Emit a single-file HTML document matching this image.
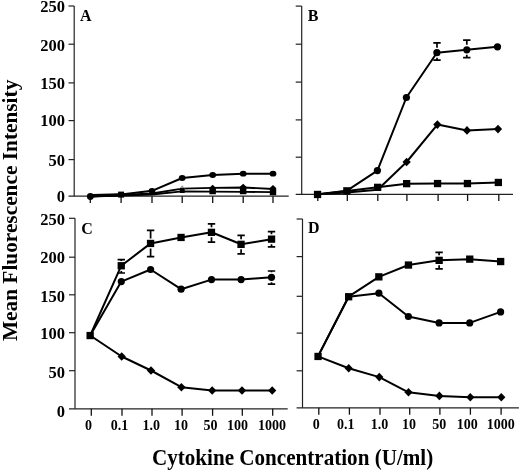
<!DOCTYPE html>
<html><head><meta charset="utf-8"><style>
html,body{margin:0;padding:0;background:#fff;width:520px;height:471px;overflow:hidden;}
svg{display:block;font-family:"Liberation Serif",serif;filter:blur(0.35px);}
</style></head><body>
<svg width="520" height="471" viewBox="0 0 520 471">
<path d="M74.2 6.0V196.2" stroke="#222" stroke-width="1.2" fill="none"/>
<path d="M68.5 6.0H74.2" stroke="#222" stroke-width="1.2" fill="none"/>
<path d="M68.5 44.2H74.2" stroke="#222" stroke-width="1.2" fill="none"/>
<path d="M68.5 82.9H74.2" stroke="#222" stroke-width="1.2" fill="none"/>
<path d="M68.5 120.6H74.2" stroke="#222" stroke-width="1.2" fill="none"/>
<path d="M68.5 159.6H74.2" stroke="#222" stroke-width="1.2" fill="none"/>
<path d="M68.5 196.2H288.7" stroke="#222" stroke-width="1.2" fill="none"/>
<path d="M90.3 196.2V203.0" stroke="#111" stroke-width="1.3"/>
<path d="M121.1 196.2V203.0" stroke="#111" stroke-width="1.3"/>
<path d="M152.0 196.2V203.0" stroke="#111" stroke-width="1.3"/>
<path d="M182.2 196.2V203.0" stroke="#111" stroke-width="1.3"/>
<path d="M212.7 196.2V203.0" stroke="#111" stroke-width="1.3"/>
<path d="M243.2 196.2V203.0" stroke="#111" stroke-width="1.3"/>
<path d="M273.0 196.2V203.0" stroke="#111" stroke-width="1.3"/>
<path d="M301.7 6.1V194.4" stroke="#222" stroke-width="1.2" fill="none"/>
<path d="M295.7 6.1H301.7" stroke="#222" stroke-width="1.2" fill="none"/>
<path d="M295.7 44.2H301.7" stroke="#222" stroke-width="1.2" fill="none"/>
<path d="M295.7 82.1H301.7" stroke="#222" stroke-width="1.2" fill="none"/>
<path d="M295.7 119.9H301.7" stroke="#222" stroke-width="1.2" fill="none"/>
<path d="M295.7 157.2H301.7" stroke="#222" stroke-width="1.2" fill="none"/>
<path d="M295.7 194.4H513.0" stroke="#222" stroke-width="1.2" fill="none"/>
<path d="M317.8 194.4V201.0" stroke="#111" stroke-width="1.3"/>
<path d="M347.3 194.4V201.0" stroke="#111" stroke-width="1.3"/>
<path d="M377.8 194.4V201.0" stroke="#111" stroke-width="1.3"/>
<path d="M406.9 194.4V201.0" stroke="#111" stroke-width="1.3"/>
<path d="M438.1 194.4V201.0" stroke="#111" stroke-width="1.3"/>
<path d="M467.6 194.4V201.0" stroke="#111" stroke-width="1.3"/>
<path d="M498.8 194.4V201.0" stroke="#111" stroke-width="1.3"/>
<path d="M75.0 218.3V408.8" stroke="#222" stroke-width="1.2" fill="none"/>
<path d="M69.0 218.3H75.0" stroke="#222" stroke-width="1.2" fill="none"/>
<path d="M69.0 257.2H75.0" stroke="#222" stroke-width="1.2" fill="none"/>
<path d="M69.0 294.8H75.0" stroke="#222" stroke-width="1.2" fill="none"/>
<path d="M69.0 332.7H75.0" stroke="#222" stroke-width="1.2" fill="none"/>
<path d="M69.0 370.7H75.0" stroke="#222" stroke-width="1.2" fill="none"/>
<path d="M69.0 408.8H287.7" stroke="#222" stroke-width="1.2" fill="none"/>
<path d="M91.3 408.8V415.8" stroke="#111" stroke-width="1.3"/>
<path d="M122.0 408.8V415.8" stroke="#111" stroke-width="1.3"/>
<path d="M152.0 408.8V415.8" stroke="#111" stroke-width="1.3"/>
<path d="M182.1 408.8V415.8" stroke="#111" stroke-width="1.3"/>
<path d="M212.6 408.8V415.8" stroke="#111" stroke-width="1.3"/>
<path d="M242.3 408.8V415.8" stroke="#111" stroke-width="1.3"/>
<path d="M272.7 408.8V415.8" stroke="#111" stroke-width="1.3"/>
<path d="M302.5 219.0V407.8" stroke="#222" stroke-width="1.2" fill="none"/>
<path d="M296.6 219.0H302.5" stroke="#222" stroke-width="1.2" fill="none"/>
<path d="M296.6 256.6H302.5" stroke="#222" stroke-width="1.2" fill="none"/>
<path d="M296.6 296.3H302.5" stroke="#222" stroke-width="1.2" fill="none"/>
<path d="M296.6 333.1H302.5" stroke="#222" stroke-width="1.2" fill="none"/>
<path d="M296.6 370.8H302.5" stroke="#222" stroke-width="1.2" fill="none"/>
<path d="M296.6 407.8H518.9" stroke="#222" stroke-width="1.2" fill="none"/>
<path d="M318.8 407.8V414.7" stroke="#111" stroke-width="1.3"/>
<path d="M349.4 407.8V414.7" stroke="#111" stroke-width="1.3"/>
<path d="M380.0 407.8V414.7" stroke="#111" stroke-width="1.3"/>
<path d="M409.7 407.8V414.7" stroke="#111" stroke-width="1.3"/>
<path d="M439.9 407.8V414.7" stroke="#111" stroke-width="1.3"/>
<path d="M470.4 407.8V414.7" stroke="#111" stroke-width="1.3"/>
<path d="M501.1 407.8V414.7" stroke="#111" stroke-width="1.3"/>
<polyline points="90.3,196.5 121.1,194.5 152.0,190.8 182.2,178.0 212.7,175.0 243.2,173.7 273.0,173.7" fill="none" stroke="#000" stroke-width="2.00" stroke-linejoin="round"/>
<polyline points="90.3,196.3 121.1,195.0 152.0,193.5 182.2,188.6 212.7,187.8 243.2,187.5 273.0,189.0" fill="none" stroke="#000" stroke-width="1.80" stroke-linejoin="round"/>
<polyline points="90.3,196.5 121.1,195.5 152.0,194.5 182.2,191.3 212.7,191.6 243.2,191.8 273.0,192.2" fill="none" stroke="#000" stroke-width="1.80" stroke-linejoin="round"/>
<path d="M92 195.6L120 194.8" stroke="#000" stroke-width="3.2"/>
<circle cx="90.3" cy="196.5" r="3.4" fill="#000"/>
<rect x="118.1" y="191.6" width="6.0" height="6.0" fill="#000"/>
<ellipse cx="152.0" cy="190.8" rx="3.4" ry="2.9"/>
<ellipse cx="182.2" cy="178.0" rx="3.4" ry="2.9"/>
<ellipse cx="212.7" cy="175.0" rx="3.4" ry="2.9"/>
<ellipse cx="243.2" cy="173.7" rx="3.4" ry="2.9"/>
<ellipse cx="273.0" cy="173.7" rx="3.4" ry="2.9"/>
<polygon points="182.2,185.3 185.5,189 178.9,189" fill="#999"/>
<rect x="179.7" y="188.0" width="5.0" height="5.0" fill="#000"/>
<polygon points="212.7,184.8 215.9,187.8 215.9,194.2 209.4,194.2 209.4,187.8" fill="#000"/>
<polygon points="243.2,183.8 246.4,186.8 246.4,194.2 239.9,194.2 239.9,186.8" fill="#000"/>
<polygon points="273.0,184.9 276.2,187.9 276.2,195.3 269.8,195.3 269.8,187.9" fill="#000"/>
<polyline points="317.8,194.3 347.0,190.7 377.4,170.6 406.4,97.5 436.9,52.7 466.8,49.8 497.5,46.8" fill="none" stroke="#000" stroke-width="2.00" stroke-linejoin="round"/>
<polyline points="317.8,194.3 347.0,192.5 377.6,189.8 406.6,162.0 437.4,124.6 467.0,130.4 498.0,129.1" fill="none" stroke="#000" stroke-width="2.00" stroke-linejoin="round"/>
<polyline points="317.5,194.5 346.9,190.9 377.6,187.3 406.6,183.7 437.5,183.6 467.4,183.6 498.3,182.4" fill="none" stroke="#000" stroke-width="2.00" stroke-linejoin="round"/>
<path d="M433.3 42.8H440.7M433.3 60.2H440.7M437.0 42.8V47.7M437.0 60.2V57.7" stroke="#000" stroke-width="1.7" fill="none"/>
<path d="M463.1 40.1H470.5M463.1 57.7H470.5M466.8 40.1V44.8M466.8 57.7V54.8" stroke="#000" stroke-width="1.7" fill="none"/>
<circle cx="377.4" cy="170.6" r="3.6" fill="#000"/>
<circle cx="406.4" cy="97.5" r="3.6" fill="#000"/>
<circle cx="436.9" cy="52.7" r="3.6" fill="#000"/>
<circle cx="466.8" cy="49.8" r="3.6" fill="#000"/>
<circle cx="497.5" cy="46.8" r="3.6" fill="#000"/>
<polygon points="406.6,157.7 410.8,162.0 406.6,166.3 402.5,162.0" fill="#000"/>
<polygon points="437.4,120.3 441.5,124.6 437.4,128.9 433.2,124.6" fill="#000"/>
<polygon points="467.0,126.1 471.1,130.4 467.0,134.7 462.9,130.4" fill="#000"/>
<polygon points="498.0,124.8 502.1,129.1 498.0,133.4 493.9,129.1" fill="#000"/>
<rect x="313.9" y="190.8" width="7.3" height="7.3" fill="#000"/>
<rect x="343.2" y="187.2" width="7.3" height="7.3" fill="#000"/>
<rect x="374.0" y="183.7" width="7.3" height="7.3" fill="#000"/>
<rect x="403.0" y="180.0" width="7.3" height="7.3" fill="#000"/>
<rect x="433.9" y="179.9" width="7.3" height="7.3" fill="#000"/>
<rect x="463.8" y="179.9" width="7.3" height="7.3" fill="#000"/>
<rect x="494.7" y="178.8" width="7.3" height="7.3" fill="#000"/>
<polyline points="90.2,335.5 121.3,265.7 150.6,243.4 181.1,237.4 211.5,232.3 241.1,244.3 271.5,239.2" fill="none" stroke="#000" stroke-width="2.00" stroke-linejoin="round"/>
<polyline points="90.2,335.5 121.3,281.6 150.6,269.5 181.1,289.2 211.5,279.6 241.1,279.6 271.5,277.3" fill="none" stroke="#000" stroke-width="2.00" stroke-linejoin="round"/>
<polyline points="90.2,335.5 121.7,356.5 151.0,370.5 181.4,387.2 212.2,390.5 242.0,390.5 272.2,390.5" fill="none" stroke="#000" stroke-width="2.00" stroke-linejoin="round"/>
<path d="M117.6 259.6H125.0M117.6 273.0H125.0M121.3 259.6V260.9M121.3 273.0V270.9" stroke="#000" stroke-width="1.7" fill="none"/>
<path d="M146.9 230.4H154.3M146.9 256.7H154.3M150.6 230.4V238.4M150.6 256.7V248.4" stroke="#000" stroke-width="1.7" fill="none"/>
<path d="M207.8 223.8H215.2M207.8 242.2H215.2M211.5 223.8V227.3M211.5 242.2V237.3" stroke="#000" stroke-width="1.7" fill="none"/>
<path d="M237.4 235.3H244.8M237.4 253.8H244.8M241.1 235.3V239.3M241.1 253.8V249.3" stroke="#000" stroke-width="1.7" fill="none"/>
<path d="M267.8 231.6H275.2M267.8 246.8H275.2M271.5 231.6V234.2M271.5 246.8V244.2" stroke="#000" stroke-width="1.7" fill="none"/>
<path d="M267.8 271.0H275.2M267.8 284.2H275.2M271.5 271.0V272.3M271.5 284.2V282.3" stroke="#000" stroke-width="1.7" fill="none"/>
<circle cx="121.3" cy="281.6" r="3.6" fill="#000"/>
<circle cx="150.6" cy="269.5" r="3.6" fill="#000"/>
<circle cx="181.1" cy="289.2" r="3.6" fill="#000"/>
<circle cx="211.5" cy="279.6" r="3.6" fill="#000"/>
<circle cx="241.1" cy="279.6" r="3.6" fill="#000"/>
<circle cx="271.5" cy="277.3" r="3.6" fill="#000"/>
<polygon points="121.7,352.2 125.9,356.5 121.7,360.8 117.5,356.5" fill="#000"/>
<polygon points="151.0,366.2 155.2,370.5 151.0,374.8 146.8,370.5" fill="#000"/>
<polygon points="181.4,382.9 185.6,387.2 181.4,391.5 177.2,387.2" fill="#000"/>
<polygon points="212.2,386.2 216.3,390.5 212.2,394.8 208.0,390.5" fill="#000"/>
<polygon points="242.0,386.2 246.2,390.5 242.0,394.8 237.8,390.5" fill="#000"/>
<polygon points="272.2,386.2 276.3,390.5 272.2,394.8 268.1,390.5" fill="#000"/>
<rect x="86.5" y="331.9" width="7.3" height="7.3" fill="#000"/>
<rect x="117.6" y="262.1" width="7.3" height="7.3" fill="#000"/>
<rect x="146.9" y="239.8" width="7.3" height="7.3" fill="#000"/>
<rect x="177.4" y="233.8" width="7.3" height="7.3" fill="#000"/>
<rect x="207.8" y="228.7" width="7.3" height="7.3" fill="#000"/>
<rect x="237.4" y="240.7" width="7.3" height="7.3" fill="#000"/>
<rect x="267.9" y="235.5" width="7.3" height="7.3" fill="#000"/>
<polyline points="318.0,356.4 348.6,296.7 378.9,276.9 408.4,265.0 439.1,260.3 469.7,259.2 500.6,261.5" fill="none" stroke="#000" stroke-width="2.00" stroke-linejoin="round"/>
<polyline points="318.0,356.4 348.6,296.7 378.9,293.2 408.4,316.5 439.1,322.9 469.7,322.9 500.6,311.9" fill="none" stroke="#000" stroke-width="2.00" stroke-linejoin="round"/>
<polyline points="318.0,356.4 348.7,368.2 379.3,377.1 408.5,392.3 439.4,395.9 470.3,397.2 501.3,397.2" fill="none" stroke="#000" stroke-width="2.00" stroke-linejoin="round"/>
<path d="M435.4 252.3H442.8M435.4 268.8H442.8M439.1 252.3V255.3M439.1 268.8V265.3" stroke="#000" stroke-width="1.7" fill="none"/>
<circle cx="378.9" cy="293.2" r="3.6" fill="#000"/>
<circle cx="408.4" cy="316.5" r="3.6" fill="#000"/>
<circle cx="439.1" cy="322.9" r="3.6" fill="#000"/>
<circle cx="469.7" cy="322.9" r="3.6" fill="#000"/>
<circle cx="500.6" cy="311.9" r="3.6" fill="#000"/>
<polygon points="348.7,363.9 352.8,368.2 348.7,372.5 344.6,368.2" fill="#000"/>
<polygon points="379.3,372.8 383.4,377.1 379.3,381.4 375.2,377.1" fill="#000"/>
<polygon points="408.5,388.0 412.6,392.3 408.5,396.6 404.4,392.3" fill="#000"/>
<polygon points="439.4,391.6 443.5,395.9 439.4,400.2 435.2,395.9" fill="#000"/>
<polygon points="470.3,392.9 474.4,397.2 470.3,401.5 466.2,397.2" fill="#000"/>
<polygon points="501.3,392.9 505.4,397.2 501.3,401.5 497.2,397.2" fill="#000"/>
<rect x="314.4" y="352.8" width="7.3" height="7.3" fill="#000"/>
<rect x="345.0" y="293.1" width="7.3" height="7.3" fill="#000"/>
<rect x="375.2" y="273.2" width="7.3" height="7.3" fill="#000"/>
<rect x="404.8" y="261.4" width="7.3" height="7.3" fill="#000"/>
<rect x="435.5" y="256.7" width="7.3" height="7.3" fill="#000"/>
<rect x="466.1" y="255.5" width="7.3" height="7.3" fill="#000"/>
<rect x="497.0" y="257.9" width="7.3" height="7.3" fill="#000"/>
<text x="65.0" y="12.3" text-anchor="end" font-size="16.5" font-family="Liberation Serif" font-weight="bold">250</text>
<text x="65.0" y="50.9" text-anchor="end" font-size="16.5" font-family="Liberation Serif" font-weight="bold">200</text>
<text x="65.0" y="89.1" text-anchor="end" font-size="16.5" font-family="Liberation Serif" font-weight="bold">150</text>
<text x="65.0" y="126.4" text-anchor="end" font-size="16.5" font-family="Liberation Serif" font-weight="bold">100</text>
<text x="65.0" y="166.4" text-anchor="end" font-size="16.5" font-family="Liberation Serif" font-weight="bold">50</text>
<text x="65.0" y="202.1" text-anchor="end" font-size="16.5" font-family="Liberation Serif" font-weight="bold">0</text>
<text x="65.0" y="224.9" text-anchor="end" font-size="16.5" font-family="Liberation Serif" font-weight="bold">250</text>
<text x="65.0" y="263.3" text-anchor="end" font-size="16.5" font-family="Liberation Serif" font-weight="bold">200</text>
<text x="65.0" y="301.5" text-anchor="end" font-size="16.5" font-family="Liberation Serif" font-weight="bold">150</text>
<text x="65.0" y="338.8" text-anchor="end" font-size="16.5" font-family="Liberation Serif" font-weight="bold">100</text>
<text x="65.0" y="377.7" text-anchor="end" font-size="16.5" font-family="Liberation Serif" font-weight="bold">50</text>
<text x="65.0" y="417.1" text-anchor="end" font-size="16.5" font-family="Liberation Serif" font-weight="bold">0</text>
<text x="88.6" y="430.2" text-anchor="middle" font-size="14" font-family="Liberation Serif" font-weight="bold">0</text>
<text x="119.6" y="430.2" text-anchor="middle" font-size="14" font-family="Liberation Serif" font-weight="bold">0.1</text>
<text x="151.2" y="430.2" text-anchor="middle" font-size="14" font-family="Liberation Serif" font-weight="bold">1.0</text>
<text x="181.0" y="430.2" text-anchor="middle" font-size="14" font-family="Liberation Serif" font-weight="bold">10</text>
<text x="210.6" y="430.2" text-anchor="middle" font-size="14" font-family="Liberation Serif" font-weight="bold">50</text>
<text x="237.4" y="430.2" text-anchor="middle" font-size="14" font-family="Liberation Serif" font-weight="bold">100</text>
<text x="272.1" y="430.2" text-anchor="middle" font-size="14" font-family="Liberation Serif" font-weight="bold">1000</text>
<text x="316.3" y="429.2" text-anchor="middle" font-size="14" font-family="Liberation Serif" font-weight="bold">0</text>
<text x="345.7" y="429.2" text-anchor="middle" font-size="14" font-family="Liberation Serif" font-weight="bold">0.1</text>
<text x="379.4" y="429.2" text-anchor="middle" font-size="14" font-family="Liberation Serif" font-weight="bold">1.0</text>
<text x="409.0" y="429.2" text-anchor="middle" font-size="14" font-family="Liberation Serif" font-weight="bold">10</text>
<text x="439.2" y="429.2" text-anchor="middle" font-size="14" font-family="Liberation Serif" font-weight="bold">50</text>
<text x="467.3" y="429.2" text-anchor="middle" font-size="14" font-family="Liberation Serif" font-weight="bold">100</text>
<text x="500.7" y="429.2" text-anchor="middle" font-size="14" font-family="Liberation Serif" font-weight="bold">1000</text>
<text transform="translate(80.0,20.9) scale(1,1.07)" font-size="16" font-family="Liberation Serif" font-weight="bold">A</text>
<text transform="translate(307.8,21.0) scale(1,1.07)" font-size="16" font-family="Liberation Serif" font-weight="bold">B</text>
<text transform="translate(81.3,233.6) scale(1,1.07)" font-size="16" font-family="Liberation Serif" font-weight="bold">C</text>
<text transform="translate(307.9,233.4) scale(1,1.07)" font-size="16" font-family="Liberation Serif" font-weight="bold">D</text>
<text transform="translate(292.6,465.0) scale(1,1.07)" text-anchor="middle" font-size="21.1" font-family="Liberation Serif" font-weight="bold">Cytokine Concentration (U/ml)</text>
<text transform="translate(17.3,210.4) rotate(-90) scale(1.016,1)" x="0" y="0" text-anchor="middle" font-size="21" font-family="Liberation Serif" font-weight="bold">Mean Fluorescence Intensity</text>
</svg>
</body></html>
